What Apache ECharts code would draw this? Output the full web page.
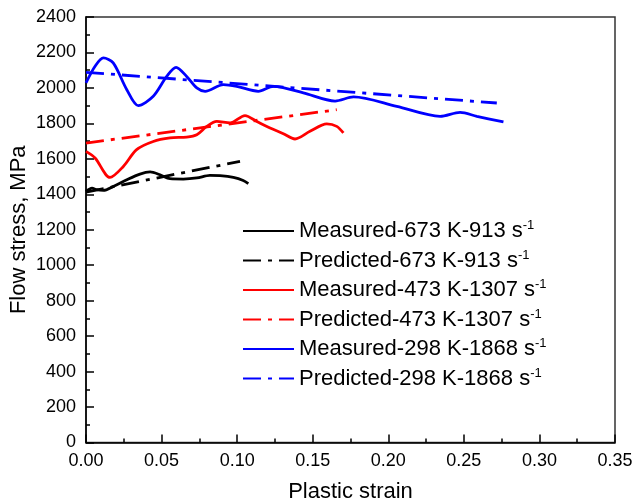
<!DOCTYPE html>
<html>
<head>
<meta charset="utf-8">
<script src="https://cdn.jsdelivr.net/npm/echarts@6/dist/echarts.min.js"></script>
<style>
html,body{margin:0;padding:0;background:#fff;}
#c{width:635px;height:504px;}
</style>
</head>
<body>
<div id="c"></div>
<script>
// Measured 673 K - 913 s^-1 : [strain, stress]
var measured673 = [[0,1416],[0.004,1435],[0.007,1426],[0.0115,1422],[0.018,1444],[0.027,1482],[0.0357,1514],[0.0424,1526],[0.049,1510],[0.0556,1488],[0.0644,1486],[0.0733,1492],[0.082,1507],[0.0887,1505],[0.0975,1495],[0.104,1478],[0.1074,1460]];
var predicted673 = [[0,1412],[0.1019,1586]];
// Measured 473 K - 1307 s^-1
var measured473 = [[0,1642],[0.006,1605],[0.0159,1495],[0.0247,1557],[0.0335,1652],[0.0445,1698],[0.0556,1718],[0.0666,1723],[0.0733,1736],[0.0799,1783],[0.0865,1811],[0.0953,1802],[0.1052,1844],[0.113,1811],[0.1218,1774],[0.1306,1742],[0.1383,1712],[0.1482,1755],[0.1593,1797],[0.1659,1783],[0.1703,1746]];
var predicted473 = [[0,1689],[0.1659,1877]];
// Measured 298 K - 1868 s^-1
var measured298 = [[0,2028],[0.006,2122],[0.0115,2169],[0.018,2141],[0.027,1990],[0.0346,1900],[0.0445,1953],[0.0534,2065],[0.0596,2116],[0.0666,2065],[0.0733,2000],[0.0788,1981],[0.0909,2019],[0.0997,2009],[0.114,1981],[0.124,2009],[0.1438,1972],[0.1648,1926],[0.177,1949],[0.2056,1896],[0.2343,1840],[0.2475,1862],[0.2586,1840],[0.2762,1808]];
var predicted298 = [[0,2088],[0.2718,1915]];

var seriesNames = ['Measured-673 K-913 s','Predicted-673 K-913 s','Measured-473 K-1307 s','Predicted-473 K-1307 s','Measured-298 K-1868 s','Predicted-298 K-1868 s'];
var seriesData = [measured673, predicted673, measured473, predicted473, measured298, predicted298];
var seriesColors = ['#000000','#000000','#ff0000','#ff0000','#0000ff','#0000ff'];
var dashed = [false,true,false,true,false,true];

var FONT = 'Liberation Sans, Arial, sans-serif';
var series = seriesNames.map(function(n,i){
  return {
    name: n, type: 'line', data: seriesData[i], symbol: 'none', smooth: dashed[i] ? false : 0.3,
    lineStyle: { color: seriesColors[i], width: 2.8, type: dashed[i] ? [18,7,4,7] : 'solid', cap: 'butt' },
    itemStyle: { color: seriesColors[i] },
    z: dashed[i] ? 3 : 2
  };
});

var chart = echarts.init(document.getElementById('c'), null, {renderer:'canvas'});
chart.setOption({
  animation: false,
  backgroundColor: '#fff',
  grid: { left: 86, right: 20, top: 17, bottom: 61.5, show: true, borderColor: '#333', borderWidth: 1.5, containLabel: false, outerBoundsMode: 'none' },
  legend: {
    orient: 'vertical', left: 237, top: 214,
    itemWidth: 51, itemHeight: 14, itemGap: 5.5,
    data: seriesNames,
    itemStyle: { opacity: 0, borderWidth: 0 },
    formatter: function(n){ return n + '{sup|-1}'; },
    textStyle: { fontFamily: FONT, fontSize: 22, color: '#000', lineHeight: 24,
      rich: { sup: { fontFamily: FONT, fontSize: 13, color: '#000', verticalAlign: 'top', lineHeight: 14 } } }
  },
  xAxis: {
    type: 'value', min: 0, max: 0.35, interval: 0.05,
    name: 'Plastic strain', nameLocation: 'middle', nameGap: 38, nameMoveOverlap: false,
    nameTextStyle: { fontFamily: FONT, fontSize: 22, color: '#000' },
    axisLine: { show: true, onZero: false, lineStyle: { color: '#000', width: 1.5 } },
    axisTick: { show: true, inside: true, length: 8, lineStyle: { color: '#000', width: 1.5 } },
    minorTick: { show: true, splitNumber: 2, length: 4, lineStyle: { color: '#000', width: 1.5 } },
    splitLine: { show: false },
    axisLabel: { fontFamily: FONT, fontSize: 18, color: '#000', margin: 10, formatter: function(v){ return v.toFixed(2); } }
  },
  yAxis: {
    type: 'value', min: 0, max: 2400, interval: 200,
    name: 'Flow stress, MPa', nameLocation: 'middle', nameGap: 56, nameMoveOverlap: false,
    nameTextStyle: { fontFamily: FONT, fontSize: 22, color: '#000' },
    axisLine: { show: true, onZero: false, lineStyle: { color: '#000', width: 1.5 } },
    axisTick: { show: true, inside: true, length: 8, lineStyle: { color: '#000', width: 1.5 } },
    minorTick: { show: true, splitNumber: 2, length: 4, lineStyle: { color: '#000', width: 1.5 } },
    splitLine: { show: false },
    axisLabel: { fontFamily: FONT, fontSize: 18, color: '#000', margin: 10, formatter: function(v){ return String(v); } }
  },
  series: series
});
</script>
</body>
</html>
